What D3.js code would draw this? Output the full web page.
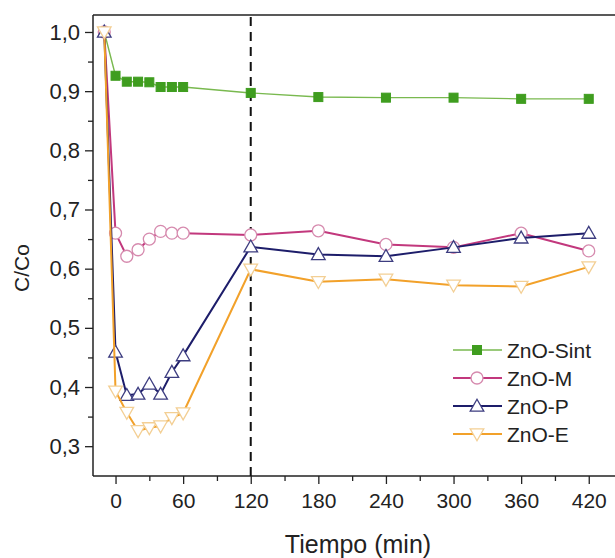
<!DOCTYPE html>
<html>
<head>
<meta charset="utf-8">
<script src="https://cdn.jsdelivr.net/npm/d3@7"></script>
<style>
  html, body { margin: 0; padding: 0; background: #fff; }
  svg { display: block; font-family: "Liberation Sans", Arial, sans-serif; }
</style>
</head>
<body>
<svg id="chart" width="615" height="558"></svg>
<script>
// ---- data ----
const times = [-10, 0, 10, 20, 30, 40, 50, 60, 120, 180, 240, 300, 360, 420];
const znoSint = [1.0, 0.926, 0.916, 0.916, 0.915, 0.907, 0.907, 0.907, 0.897, 0.890, 0.889, 0.889, 0.887, 0.887];
const znoM    = [1.0, 0.660, 0.621, 0.632, 0.650, 0.663, 0.660, 0.660, 0.657, 0.664, 0.641, 0.636, 0.660, 0.630];
const znoP    = [1.0, 0.459, 0.386, 0.388, 0.405, 0.388, 0.425, 0.453, 0.637, 0.624, 0.621, 0.636, 0.652, 0.660];
const znoE    = [1.0, 0.393, 0.357, 0.326, 0.331, 0.334, 0.348, 0.356, 0.599, 0.578, 0.582, 0.572, 0.570, 0.603];
const seriesNames = ["ZnO-Sint", "ZnO-M", "ZnO-P", "ZnO-E"];
const xTicks = [0, 60, 120, 180, 240, 300, 360, 420];
const xMinorTicks = [30, 90, 150, 210, 270, 330, 390];
const yTicks = [0.3, 0.4, 0.5, 0.6, 0.7, 0.8, 0.9, 1.0];
const yMinorTicks = [0.35, 0.45, 0.55, 0.65, 0.75, 0.85, 0.95];
const markerLine = 120;

(function () {
// ---- layout ----
const svg = d3.select("#chart");
const pLeft = 93, pTop = 15, pBottom = 476;
const x = d3.scaleLinear().domain([-20, 450]).range([pLeft, pLeft + 470 * 1.1267]);
const y = d3.scaleLinear().domain([0.2513, 1.0287]).range([475, pTop]);
const fmt = d => d3.format(".1f")(d).replace(".", ",");

const styles = [
  { line: "#79b94f", lw: 1.4, shape: "square", fill: "#3f9d1f", stroke: "#3f9d1f" },
  { line: "#c2387d", lw: 2, shape: "circle", fill: "#ffffff", stroke: "#d68aae" },
  { line: "#1d1d6a", lw: 2, shape: "up", fill: "#ffffff", stroke: "#3d3d80" },
  { line: "#f2a12a", lw: 2, shape: "down", fill: "#ffffff", stroke: "#f3cf94" }
];
const allValues = [znoSint, znoM, znoP, znoE];

// frame top line
svg.append("line").attr("x1", pLeft).attr("x2", 615).attr("y1", pTop).attr("y2", pTop)
  .attr("stroke", "#222").attr("stroke-width", 1.5);

// axes
const xAxis = d3.axisBottom(x).tickValues(xTicks).tickSize(8).tickFormat(d3.format("d"));
const gx = svg.append("g").attr("transform", `translate(0,${pBottom})`).call(xAxis);
gx.select(".domain").attr("d", `M${pLeft},0H615`).attr("stroke", "#222").attr("stroke-width", 1.5);
gx.selectAll(".tick line").attr("stroke", "#222").attr("stroke-width", 1.3);
gx.selectAll(".tick text").attr("font-size", 21).attr("fill", "#222").attr("y", 17)
  .attr("font-family", "Liberation Sans, Arial, sans-serif");
const gxm = svg.append("g").attr("transform", `translate(0,${pBottom})`)
  .call(d3.axisBottom(x).tickValues(xMinorTicks).tickSize(5).tickFormat(""));
gxm.select(".domain").remove();
gxm.selectAll(".tick line").attr("stroke", "#222").attr("stroke-width", 1.3);

const yAxis = d3.axisLeft(y).tickValues(yTicks).tickSize(8).tickFormat(fmt);
const gy = svg.append("g").attr("transform", `translate(${pLeft},0)`).call(yAxis);
gy.select(".domain").attr("d", `M0,${pTop}V${pBottom}`).attr("stroke", "#222").attr("stroke-width", 1.5);
gy.selectAll(".tick line").attr("stroke", "#222").attr("stroke-width", 1.3);
gy.selectAll(".tick text").attr("font-size", 22).attr("fill", "#222").attr("x", -13)
  .attr("font-family", "Liberation Sans, Arial, sans-serif");
const gym = svg.append("g").attr("transform", `translate(${pLeft},0)`)
  .call(d3.axisLeft(y).tickValues(yMinorTicks).tickSize(5).tickFormat(""));
gym.select(".domain").remove();
gym.selectAll(".tick line").attr("stroke", "#222").attr("stroke-width", 1.3);

// axis titles
svg.append("text").attr("x", 358).attr("y", 553).attr("text-anchor", "middle")
  .attr("font-size", 25).attr("fill", "#222").text("Tiempo (min)");
svg.append("text").attr("transform", `translate(29,268) rotate(-90)`).attr("text-anchor", "middle")
  .attr("font-size", 21).attr("fill", "#222").text("C/Co");

// dashed vertical line
svg.append("line").attr("x1", x(markerLine)).attr("x2", x(markerLine))
  .attr("y1", pTop + 2).attr("y2", pBottom)
  .attr("stroke", "#111").attr("stroke-width", 2).attr("stroke-dasharray", "9,6");

// marker drawing
function drawMarker(g, shape, cx, cy, st) {
  if (shape === "square") {
    g.append("rect").attr("x", cx - 4.5).attr("y", cy - 4.5).attr("width", 9).attr("height", 9)
      .attr("fill", st.fill).attr("stroke", st.stroke).attr("stroke-width", 1);
  } else if (shape === "circle") {
    g.append("circle").attr("cx", cx).attr("cy", cy).attr("r", 6)
      .attr("fill", st.fill).attr("stroke", st.stroke).attr("stroke-width", 1.3);
  } else if (shape === "up") {
    const s = 6.8;
    g.append("path").attr("d", `M${cx},${cy - s}L${cx + s},${cy + s * 0.75}L${cx - s},${cy + s * 0.75}Z`)
      .attr("fill", st.fill).attr("stroke", st.stroke).attr("stroke-width", 1.3);
  } else {
    const s = 6.8;
    g.append("path").attr("d", `M${cx},${cy + s}L${cx + s},${cy - s * 0.75}L${cx - s},${cy - s * 0.75}Z`)
      .attr("fill", st.fill).attr("stroke", st.stroke).attr("stroke-width", 1.3);
  }
}

const line = d3.line().x(d => x(d[0])).y(d => y(d[1]));
allValues.forEach((vals, i) => {
  const st = styles[i];
  const pts = times.map((t, j) => [t, vals[j]]);
  const g = svg.append("g");
  g.append("path").attr("d", line(pts)).attr("fill", "none")
    .attr("stroke", st.line).attr("stroke-width", st.lw).attr("stroke-linejoin", "round");
  pts.forEach(p => drawMarker(g, st.shape, x(p[0]), y(p[1]), st));
});

// legend
const legY = [350, 378, 406, 434];
seriesNames.forEach((name, i) => {
  const st = styles[i];
  const g = svg.append("g");
  g.append("line").attr("x1", 453).attr("x2", 502).attr("y1", legY[i]).attr("y2", legY[i])
    .attr("stroke", st.line).attr("stroke-width", st.lw);
  drawMarker(g, st.shape, 477, legY[i], st);
  g.append("text").attr("x", 507).attr("y", legY[i]).attr("dy", "0.36em")
    .attr("font-size", 21).attr("fill", "#222").text(name);
});
})();
</script>
</body>
</html>
